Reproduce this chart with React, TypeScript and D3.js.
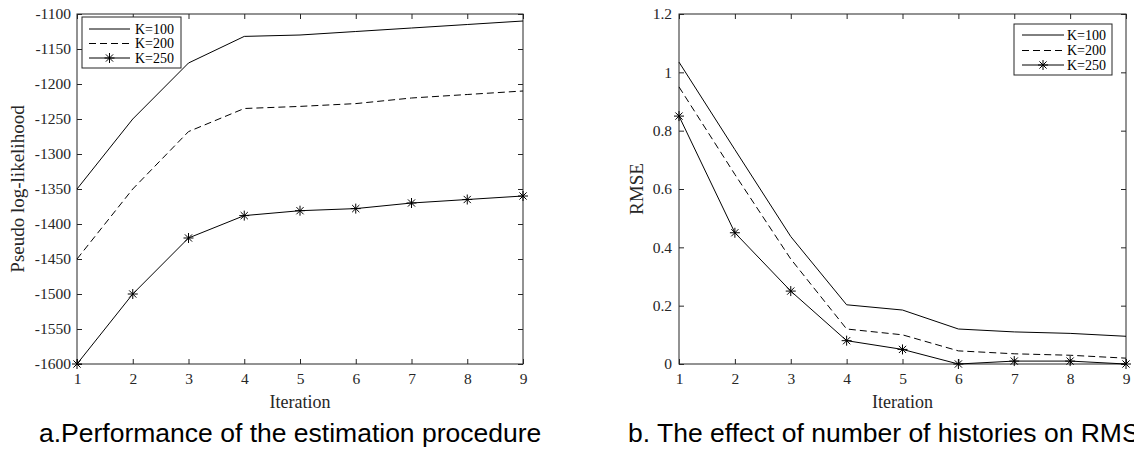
import React, { useRef, useEffect } from 'react';
import * as d3 from 'd3';

const iterations = [1, 2, 3, 4, 5, 6, 7, 8, 9];

// panel a: pseudo log-likelihood
const llK100 = [-1350, -1250, -1170, -1132, -1130, -1125, -1120, -1115, -1110];
const llK200 = [-1450, -1350, -1268, -1235, -1232, -1228, -1220, -1215, -1210];
const llK250 = [-1600, -1500, -1420, -1388, -1381, -1378, -1370, -1365, -1360];
const llTicks = [-1600, -1550, -1500, -1450, -1400, -1350, -1300, -1250, -1200, -1150, -1100];

// panel b: RMSE
const rmseK100 = [1.035, 0.735, 0.437, 0.203, 0.185, 0.12, 0.11, 0.105, 0.095];
const rmseK200 = [0.95, 0.65, 0.36, 0.12, 0.1, 0.045, 0.035, 0.03, 0.02];
const rmseK250 = [0.85, 0.45, 0.25, 0.08, 0.05, 0, 0.01, 0.01, 0];
const rmseTicks = [0, 0.2, 0.4, 0.6, 0.8, 1, 1.2];

const seriesNames = ['K=100', 'K=200', 'K=250'];

const axisColor = '#262626';
const serif = '"Liberation Serif", "Times New Roman", serif';
const sans = '"Liberation Sans", Arial, sans-serif';

function drawStar(g, cx, cy, r) {
  const d = r * 0.72;
  g.append('path')
    .attr('d', `M${cx - r},${cy}H${cx + r}M${cx},${cy - r}V${cy + r}M${cx - d},${cy - d}L${cx + d},${cy + d}M${cx - d},${cy + d}L${cx + d},${cy - d}`)
    .attr('stroke', '#000')
    .attr('stroke-width', 1)
    .attr('fill', 'none');
}

function drawPanel(svg, cfg) {
  const { left, right, top, bottom, domain, ticks, fmt, series, yLabel, yLabelX, legend, caption, captionX, labelPad } = cfg;

  const x = d3.scaleLinear().domain([1, 9]).range([left, right]);
  const y = d3.scaleLinear().domain(domain).range([bottom, top]);

  const g = svg.append('g');

  // box
  g.append('rect')
    .attr('x', left).attr('y', top)
    .attr('width', right - left).attr('height', bottom - top)
    .attr('fill', 'none').attr('stroke', axisColor).attr('stroke-width', 1);

  const styleAxis = (a, showText) => {
    a.select('.domain').remove();
    a.selectAll('line').attr('stroke', axisColor);
    a.selectAll('text')
      .attr('fill', axisColor)
      .style('font-family', serif)
      .style('font-size', '15.5px');
    if (!showText) a.selectAll('text').remove();
  };

  g.append('g')
    .attr('transform', `translate(0,${bottom})`)
    .call(d3.axisBottom(x).tickValues(iterations).tickSizeInner(-5).tickSizeOuter(0).tickPadding(9).tickFormat(d3.format('d')))
    .call(a => styleAxis(a, true));
  g.append('g')
    .attr('transform', `translate(0,${top})`)
    .call(d3.axisTop(x).tickValues(iterations).tickSizeInner(-5).tickSizeOuter(0))
    .call(a => styleAxis(a, false));
  g.append('g')
    .attr('transform', `translate(${left},0)`)
    .call(d3.axisLeft(y).tickValues(ticks).tickSizeInner(-5).tickSizeOuter(0).tickPadding(labelPad).tickFormat(fmt))
    .call(a => styleAxis(a, true));
  g.append('g')
    .attr('transform', `translate(${right},0)`)
    .call(d3.axisRight(y).tickValues(ticks).tickSizeInner(-5).tickSizeOuter(0))
    .call(a => styleAxis(a, false));

  const line = d3.line().x((d, i) => x(iterations[i])).y(d => y(d));
  const dashes = [null, '7,4', null];

  series.forEach((vals, si) => {
    g.append('path')
      .datum(vals)
      .attr('d', line)
      .attr('fill', 'none')
      .attr('stroke', '#000')
      .attr('stroke-width', 1)
      .attr('stroke-dasharray', dashes[si]);
    if (si === 2) {
      vals.forEach((v, i) => drawStar(g, x(iterations[i]), y(v), 5));
    }
  });

  // axis titles
  g.append('text')
    .attr('x', (left + right) / 2).attr('y', bottom + 44)
    .attr('text-anchor', 'middle')
    .attr('fill', axisColor)
    .style('font-family', serif).style('font-size', '18px')
    .text('Iteration');

  g.append('text')
    .attr('transform', `translate(${yLabelX},${(top + bottom) / 2}) rotate(-90)`)
    .attr('text-anchor', 'middle')
    .attr('fill', axisColor)
    .style('font-family', serif).style('font-size', '19px')
    .text(yLabel);

  // legend
  const lg = g.append('g');
  lg.append('rect')
    .attr('x', legend.x0).attr('y', legend.y0)
    .attr('width', legend.x1 - legend.x0).attr('height', legend.y1 - legend.y0)
    .attr('fill', '#fff').attr('stroke', axisColor).attr('stroke-width', 1);
  seriesNames.forEach((name, si) => {
    const ry = legend.rows[si];
    lg.append('line')
      .attr('x1', legend.lx0).attr('x2', legend.lx1)
      .attr('y1', ry).attr('y2', ry)
      .attr('stroke', '#000').attr('stroke-width', 1)
      .attr('stroke-dasharray', dashes[si]);
    if (si === 2) drawStar(lg, (legend.lx0 + legend.lx1) / 2, ry, 5);
    lg.append('text')
      .attr('x', legend.tx).attr('y', ry)
      .attr('dy', '0.35em')
      .attr('fill', '#000')
      .style('font-family', serif).style('font-size', '14px')
      .text(name);
  });

  svg.append('text')
    .attr('x', captionX).attr('y', 442)
    .attr('fill', '#000')
    .style('font-family', sans).style('font-size', '26.5px')
    .text(caption);
}

export default function App() {
  const svgRef = useRef(null);

  useEffect(() => {
    const svg = d3.select(svgRef.current);
    svg.selectAll('*').remove();

    drawPanel(svg, {
      left: 77, right: 523, top: 14, bottom: 364,
      domain: [-1600, -1100], ticks: llTicks, fmt: d => String(d),
      series: [llK100, llK200, llK250],
      yLabel: 'Pseudo log-likelihood', yLabelX: 24, labelPad: 6,
      legend: { x0: 82, x1: 181, y0: 17, y1: 68, lx0: 89, lx1: 130, tx: 135, rows: [29, 43.5, 58] },
      caption: 'a.Performance of the estimation procedure', captionX: 39,
    });

    drawPanel(svg, {
      left: 679, right: 1126, top: 14, bottom: 364,
      domain: [0, 1.2], ticks: rmseTicks, fmt: d => String(+d.toFixed(1)),
      series: [rmseK100, rmseK200, rmseK250],
      yLabel: 'RMSE', yLabelX: 643, labelPad: 7,
      legend: { x0: 1014, x1: 1112, y0: 24, y1: 75, lx0: 1022, lx1: 1064, tx: 1067, rows: [35, 50.5, 65] },
      caption: 'b. The effect of number of histories on RMSE', captionX: 628,
    });
  }, []);

  return (
    <svg ref={svgRef} width={1134} height={451}
      style={{ position: 'absolute', left: 0, top: 0, background: '#fff' }} />
  );
}
